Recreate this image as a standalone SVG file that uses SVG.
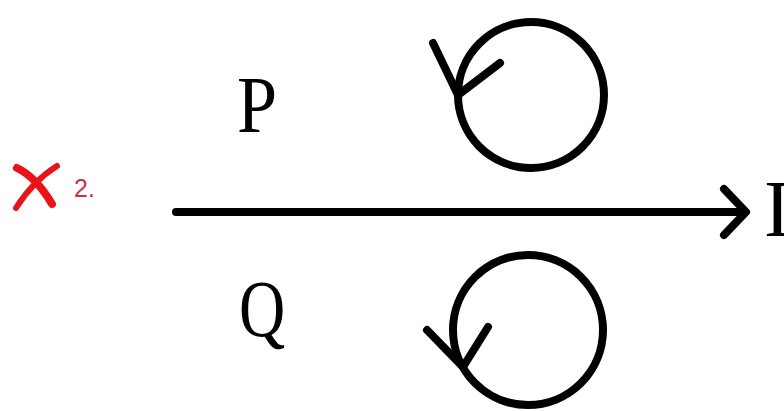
<svg xmlns="http://www.w3.org/2000/svg" width="784" height="411" viewBox="0 0 784 411">
<style>
.k{fill:none;stroke:#000;stroke-width:8;stroke-linecap:round;stroke-linejoin:round}
.lbl{font-family:"Liberation Serif",serif;fill:#000}
</style>
<rect width="784" height="411" fill="#fff"/>
<g id="mark">
<path d="M17,168 Q36,177 52,204" fill="none" stroke="#e8141a" stroke-width="8" stroke-linecap="round"/>
<path d="M16,208 Q33,181 57,166" fill="none" stroke="#e8141a" stroke-width="6" stroke-linecap="round"/>
<text x="74" y="197" font-family="Liberation Sans, sans-serif" font-size="25" fill="#c8324a">2.</text>
</g>
<g id="connectors">
<line class="k" x1="176" y1="212" x2="744" y2="212" stroke-width="9"/>
<polyline class="k" points="724,189 746,212 724,235" stroke-width="9"/>
</g>
<g id="P">
<text class="lbl" font-size="80" transform="translate(237,132) scale(0.9,1)">P</text>
</g>
<g id="Q">
<text class="lbl" font-size="80" transform="translate(239,336) scale(0.8,1)">Q</text>
</g>
<g id="I">
<text class="lbl" x="764" y="236" font-size="80">I</text>
</g>
<g id="loopTop">
<circle class="k" cx="531" cy="95" r="73"/>
<polyline class="k" points="433,43 458,95 500,63"/>
</g>
<g id="loopBottom">
<circle class="k" cx="528" cy="330" r="75"/>
<polyline class="k" points="427,330 463,367 488,327"/>
</g>
</svg>
